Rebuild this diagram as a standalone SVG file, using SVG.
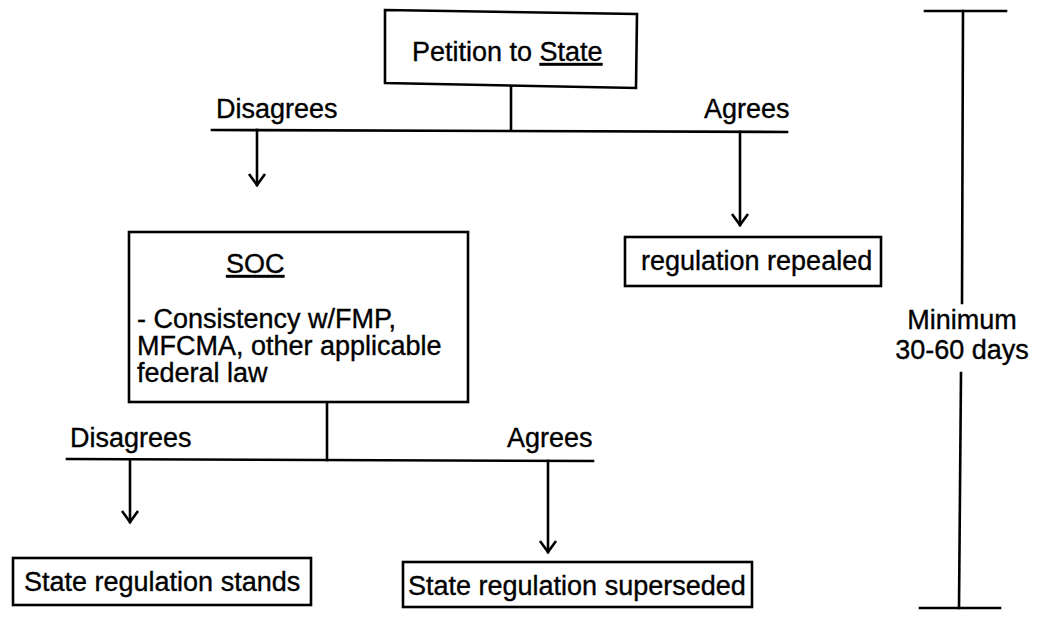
<svg xmlns="http://www.w3.org/2000/svg" width="1038" height="620" viewBox="0 0 1038 620">
  <style>
    .box { fill: #ffffff; stroke: #000000; stroke-width: 2.6; stroke-linejoin: miter; }
    .ln { fill: none; stroke: #000000; stroke-width: 2.6; stroke-linecap: square; }
    .t { font-family: "Liberation Sans", Arial, sans-serif; font-size: 27px; fill: #000000; stroke: #000000; stroke-width: 0.35; }
  </style>
  <defs>
    <marker id="vee" markerUnits="userSpaceOnUse" markerWidth="24" markerHeight="24" viewBox="-12 -12 24 24" refX="0" refY="0" orient="auto" overflow="visible">
      <path d="M -11 -8 L 0 0 L -11 8" fill="none" stroke="#000000" stroke-width="2.6" stroke-linejoin="miter"/>
    </marker>
  </defs>
  <rect width="1038" height="620" fill="#ffffff"/>

  <g id="connectors">
    <line class="ln" x1="511" y1="86" x2="511" y2="130"/>
    <line class="ln" x1="212" y1="130" x2="787" y2="132"/>
    <line class="ln" x1="257" y1="130" x2="257" y2="185" marker-end="url(#vee)"/>
    <line class="ln" x1="740" y1="132" x2="740" y2="225" marker-end="url(#vee)"/>
    <line class="ln" x1="327" y1="402" x2="327" y2="460"/>
    <line class="ln" x1="67" y1="459" x2="593" y2="461"/>
    <line class="ln" x1="130" y1="460" x2="130" y2="522" marker-end="url(#vee)"/>
    <line class="ln" x1="548" y1="461" x2="548" y2="552" marker-end="url(#vee)"/>
  </g>

  <g id="petition">
    <polygon class="box" points="385,10 637,14 636,88 385,83"/>
    <text class="t" x="412" y="61">Petition to <tspan text-decoration="underline">State</tspan></text>
  </g>

  <g id="label-disagrees-1"><text class="t" x="216" y="118">Disagrees</text></g>
  <g id="label-agrees-1"><text class="t" x="704" y="118">Agrees</text></g>

  <g id="soc">
    <rect class="box" x="129" y="232" width="339" height="170"/>
    <text class="t" x="226" y="273" text-decoration="underline">SOC</text>
    <text class="t" x="137" y="328">-  Consistency w/FMP,</text>
    <text class="t" x="137" y="355">MFCMA, other applicable</text>
    <text class="t" x="137" y="382">federal law</text>
  </g>

  <g id="repealed">
    <rect class="box" x="625" y="237" width="256" height="49"/>
    <text class="t" x="641" y="270">regulation repealed</text>
  </g>

  <g id="label-disagrees-2"><text class="t" x="70" y="447">Disagrees</text></g>
  <g id="label-agrees-2"><text class="t" x="507" y="447">Agrees</text></g>

  <g id="stands">
    <rect class="box" x="13" y="558" width="298" height="47"/>
    <text class="t" x="24" y="591">State regulation stands</text>
  </g>

  <g id="superseded">
    <rect class="box" x="403" y="562" width="349" height="45"/>
    <text class="t" x="408" y="595">State regulation superseded</text>
  </g>

  <g id="timescale">
    <line class="ln" x1="925" y1="11" x2="1006" y2="11"/>
    <line class="ln" x1="963" y1="11" x2="962" y2="303"/>
    <line class="ln" x1="961" y1="373" x2="959" y2="608"/>
    <line class="ln" x1="920" y1="608" x2="1000" y2="608"/>
    <text class="t" x="962" y="329" text-anchor="middle">Minimum</text>
    <text class="t" x="962" y="359" text-anchor="middle">30-60 days</text>
  </g>
</svg>
